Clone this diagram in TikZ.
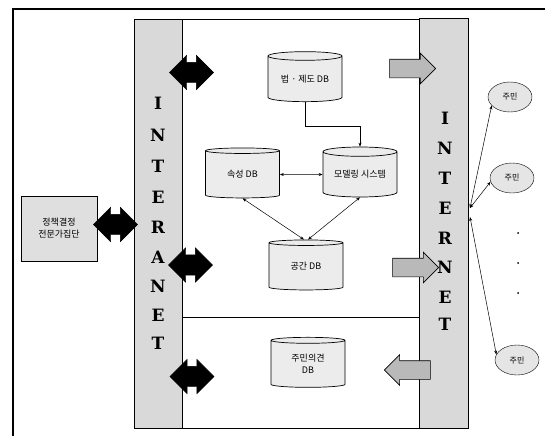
\documentclass[tikz,border=0pt]{standalone}
\usepackage{fontspec}
\setmainfont{Liberation Serif}
\newfontfamily\kr{Noto Sans CJK KR}
\newfontfamily\slab{DejaVu Serif}
\usetikzlibrary{shapes.geometric,shapes.arrows,arrows.meta}
\begin{document}
\begin{tikzpicture}[x=1pt,y=-1pt,
  frame/.style={line width=1.1pt},
  band/.style={draw, fill=gray!30, line width=0.8pt},
  db/.style={cylinder, shape border rotate=90, aspect=0.18, draw, fill=gray!15,
    minimum width=74pt, minimum height=50pt, inner sep=0pt, align=center,
    font=\kr\fontsize{9}{12}\selectfont, line width=0.7pt},
  blk/.style={double arrow, fill=black, draw=black, minimum height=44pt,
    inner xsep=0pt, inner ysep=10pt, double arrow head extend=7pt},
  gar/.style={single arrow, fill=gray!55, draw=black, minimum height=46pt,
    inner xsep=0pt, inner ysep=9pt, single arrow head extend=6pt, line width=0.6pt},
  res/.style={ellipse, draw, fill=gray!20, minimum width=44pt, minimum height=30pt,
    inner sep=0pt, font=\kr\fontsize{8}{10}\selectfont},
  lnk/.style={{Stealth[length=4pt,width=3pt]}-{Stealth[length=4pt,width=3pt]}, line width=0.5pt},
  lnkone/.style={-{Stealth[length=4pt,width=3pt]}, line width=0.5pt},
  letter/.style={font=\slab\bfseries\fontsize{17}{17}\selectfont, inner sep=0pt},
  expert/.style={draw, fill=gray!25, minimum width=76pt, minimum height=65pt,
    align=center, font=\kr\fontsize{9}{12}\selectfont, line width=0.6pt}
]
\useasboundingbox (0,0) rectangle (545,436);
% outer frame
\draw[frame] (545,9) -- (13,9) -- (13,436);
% bands
\draw[band] (134,19) rectangle (182,428);
\draw[band] (419,18) rectangle (468,428);
% main box
\draw[line width=0.8pt] (182,19) -- (419,19);
\draw[line width=0.8pt] (182,428) -- (419,428);
\draw[line width=0.8pt] (182,317) -- (419,317);
% band letters
\foreach \c/\yy [count=\i] in {I/103,N/135,T/166,E/197,R/227,A/257,N/286,E/315,T/343}
  \node[letter] (ia\i) at (158,\yy) {\c};
\foreach \c/\yy [count=\i] in {I/118,N/148,T/178,E/208,R/238,N/267,E/297,T/324}
  \node[letter] (ie\i) at (445,\yy) {\c};
% expert group
\node[expert] (expert) at (59,228.5) {정책결정\\전문가집단};
% black double arrows
\node[blk] (b0) at (115.5,224.5) {};
\node[blk] (b1) at (191.5,72.5) {};
\node[blk] (b2) at (190.5,265) {};
\node[blk] (b3) at (192,376.5) {};
% grey arrows
\node[gar] (g1) at (408,68.5) {};
\node[gar] (g2) at (411,267.5) {};
\node[gar, shape border rotate=180] (g3) at (412,370) {};
% databases
\node[db] (law) at (305,79) {법 · 제도 DB};
\node[db] (attr) at (242.5,174.5) {속성 DB};
\node[db] (model) at (360,174.5) {모델링 시스템};
\node[db] (space) at (306,266.5) {공간 DB};
\node[db] (opin) at (308,364) {주민의견\\DB};
% connectors
\draw[lnkone] (law.south) -- ++(0,24) -| (model.north);
\draw[lnk] (attr.east) -- (model.west);
\draw[lnk] (attr.south) -- ([xshift=-2pt]space.north);
\draw[lnk] (model.south) -- ([xshift=2pt]space.north);
% residents
\node[res] (r1) at (510,97) {주민};
\node[res] (r2) at (512,178) {주민};
\node[res] (r3) at (517,360) {주민};
\coordinate (hub1) at (470,208);
\coordinate (hub2) at (470,217);
\draw[lnk] (hub1) -- (r1.205);
\draw[lnk] (hub1) -- (r2.190);
\draw[lnk] (hub2) -- (r3.165);
\foreach \yy [count=\i] in {233,263,293}
  \fill (518,\yy) circle (1pt) coordinate (dot\i);
\end{tikzpicture}
\end{document}
